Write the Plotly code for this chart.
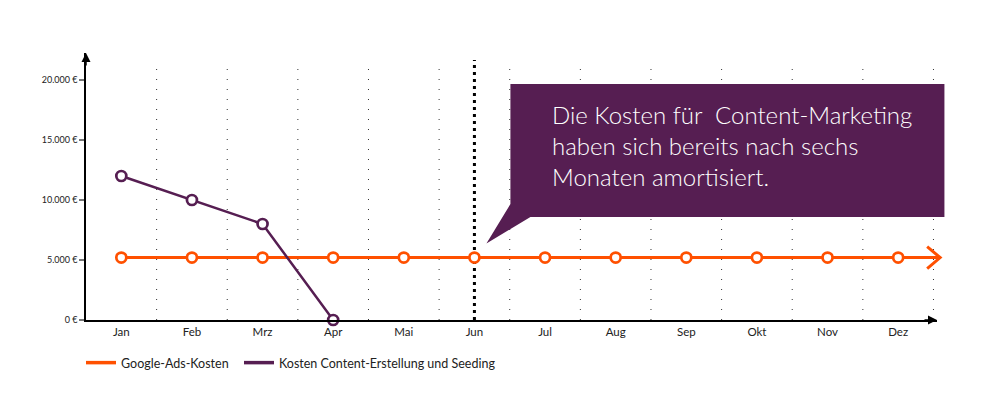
import plotly.graph_objects as go

months = ["Jan", "Feb", "Mrz", "Apr", "Mai", "Jun", "Jul", "Aug", "Sep", "Okt", "Nov", "Dez"]
google_ads = [5200, 5200, 5200, 5200, 5200, 5200, 5200, 5200, 5200, 5200, 5200, 5200]
content_months = ["Jan", "Feb", "Mrz", "Apr"]
content_costs = [12000, 10000, 8000, 0]
y_ticks = [0, 5000, 10000, 15000, 20000]
break_even_month = "Jun"
callout_lines = ["Die Kosten für \u00a0Content-Marketing", "haben sich bereits nach sechs", "Monaten amortisiert."]
series_names = ["Google-Ads-Kosten", "Kosten Content-Erstellung und Seeding"]

ORANGE = "#FF5000"
PURPLE = "#561E52"
FONT = "Lato"

# page has an 8px body margin -> figure is placed at (8, 8) in the window
W, H = 982, 403
ML, MR, MT, MB = 78, 53, 45, 91
X0, X1 = -0.5, len(months) - 1 + 0.55
Y0, Y1 = 0, 22250

idx = {m: i for i, m in enumerate(months)}
xg = list(range(len(months)))
xc = [idx[m] for m in content_months]


def px(x):
    return (x - X0) / (X1 - X0)


def py(y):
    return (y - Y0) / (Y1 - Y0)


PW, PH = W - ML - MR, H - MT - MB
ppx = (X1 - X0) / PW   # data units per pixel (x)
ppy = (Y1 - Y0) / PH   # data units per pixel (y)

fig = go.Figure()

fig.add_trace(go.Scatter(
    x=xg, y=google_ads, mode="lines+markers", name=series_names[0], showlegend=False,
    line=dict(color=ORANGE, width=3),
    marker=dict(symbol="circle", size=10, color="white", line=dict(color=ORANGE, width=2.7)),
    cliponaxis=False,
))
fig.add_trace(go.Scatter(
    x=xc, y=content_costs, mode="lines+markers", name=series_names[1], showlegend=False,
    line=dict(color=PURPLE, width=2.5),
    marker=dict(symbol="circle", size=10, color="white", line=dict(color=PURPLE, width=2.7)),
    cliponaxis=False,
))
# legend entries (line only)
fig.add_trace(go.Scatter(x=[None], y=[None], mode="lines", name=series_names[0],
                         line=dict(color=ORANGE, width=3.5), legend="legend"))
fig.add_trace(go.Scatter(x=[None], y=[None], mode="lines", name=series_names[1],
                         line=dict(color=PURPLE, width=3.5), legend="legend2"))

shapes = []
grid_top = Y1 - 7 * ppy
for i in range(len(months)):
    b = i + 0.5
    shapes.append(dict(type="line", xref="x", yref="y", x0=b, x1=b, y0=0, y1=grid_top,
                       line=dict(color="#333333", width=1, dash="1px,9px"), layer="below"))
be = idx[break_even_month]
shapes.append(dict(type="line", xref="x", yref="y", x0=be, x1=be, y0=0, y1=grid_top,
                   line=dict(color="black", width=3, dash="3px,4px"), layer="below"))

# orange line extension + chevron arrow
last_x = xg[-1]
last_y = google_ads[-1]
tip_x = last_x + 42 * ppx
arm_x = last_x + 29 * ppx
arm_dy = 11 * ppy
shapes.append(dict(type="path", xref="paper", yref="paper",
                   path=f"M{px(last_x)},{py(last_y)} L{px(tip_x)},{py(last_y)}",
                   line=dict(color=ORANGE, width=3), layer="below"))
shapes.append(dict(type="path", xref="paper", yref="paper",
                   path=f"M{px(arm_x)},{py(last_y + arm_dy)} L{px(tip_x)},{py(last_y)} L{px(arm_x)},{py(last_y - arm_dy)}",
                   line=dict(color=ORANGE, width=3)))

# callout box with tail
bx0 = be + 36 * ppx
bx1 = be + 470 * ppx
by_top = Y1 - 31 * ppy
by_bot = Y1 - 164 * ppy
tail_tip_x = be + 12 * ppx
tail_tip_y = last_y + 14 * ppy
tail_left_y = by_bot + 13 * ppy
tail_right_x = bx0 + 20 * ppx
path = (f"M{px(bx0)},{py(by_top)} L{px(bx1)},{py(by_top)} L{px(bx1)},{py(by_bot)} "
        f"L{px(tail_right_x)},{py(by_bot)} L{px(tail_tip_x)},{py(tail_tip_y)} "
        f"L{px(bx0)},{py(tail_left_y)} Z")
shapes.append(dict(type="path", xref="paper", yref="paper", path=path,
                   fillcolor=PURPLE, line=dict(width=0)))

annotations = [
    dict(xref="paper", yref="paper", x=px(bx0 + 40 * ppx), y=py(by_top - 14 * ppy),
         xanchor="left", yanchor="top", align="left", showarrow=False,
         text="<br>".join(callout_lines),
         font=dict(family=FONT, size=24, color="white", weight=300)),
    dict(xref="paper", yref="paper", x=0, y=1, ax=0, ay=14,
         showarrow=True, arrowhead=2, arrowsize=1.2, arrowwidth=1.5, arrowcolor="black", text=""),
    dict(xref="paper", yref="paper", x=1, y=0, ax=-14, ay=0,
         showarrow=True, arrowhead=2, arrowsize=1.2, arrowwidth=1.5, arrowcolor="black", text=""),
]

leg_y = -(363 - 8 - (H - MB)) / PH
fig.update_layout(
    width=W, height=H,
    margin=dict(l=ML, r=MR, t=MT, b=MB),
    paper_bgcolor="white", plot_bgcolor="white",
    font=dict(family=FONT, color="#222222"),
    showlegend=True,
    legend=dict(orientation="h", x=(81 - 8 - ML) / PW, y=leg_y, xanchor="left", yanchor="middle",
                font=dict(size=12.5, color="#222222"), itemwidth=30, bgcolor="rgba(0,0,0,0)"),
    legend2=dict(orientation="h", x=(239 - 8 - ML) / PW, y=leg_y, xanchor="left", yanchor="middle",
                 font=dict(size=12.5, color="#222222"), itemwidth=30, bgcolor="rgba(0,0,0,0)"),
    xaxis=dict(range=[X0, X1], tickvals=xg, ticktext=months, showgrid=False, zeroline=False,
               showline=True, linecolor="black", linewidth=1.5, ticks="",
               tickfont=dict(size=11.5, color="#222222"), fixedrange=True),
    yaxis=dict(range=[Y0, Y1], tickvals=y_ticks,
               ticktext=[f"{v:,}".replace(",", ".") + " €" for v in y_ticks],
               showgrid=False, zeroline=False, showline=True, linecolor="black", linewidth=1.5,
               ticks="outside", ticklen=5, tickwidth=1.5, tickcolor="#777777",
               tickfont=dict(size=9, color="#222222"), fixedrange=True),
    shapes=shapes,
    annotations=annotations,
)

fig.write_html("out.html")
